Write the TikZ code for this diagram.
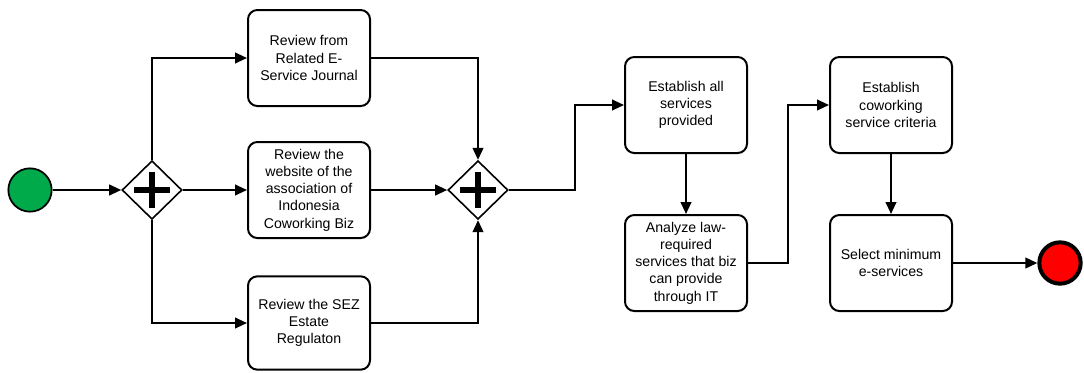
\documentclass[tikz,border=0pt]{standalone}
\usepackage{fontspec}
\setmainfont{Liberation Sans}
\usetikzlibrary{shapes.geometric,arrows.meta,calc}
\begin{document}
\begin{tikzpicture}[x=0.75pt,y=-0.75pt,
  task/.style={draw,line width=1.5pt,rounded corners=7pt,minimum width=91.5pt,minimum height=72pt,align=center,font=\fontsize{10.6}{12.9}\selectfont,inner sep=1pt},
  gw/.style={draw,line width=1.2pt,diamond,minimum width=45pt,minimum height=44pt,inner sep=0pt},
  flow/.style={line width=1.5pt,-{Triangle[length=9pt,width=8pt]}}]
\useasboundingbox (0,0) rectangle (1084,372);
\node[circle,draw,line width=1.3pt,fill={rgb,255:red,0;green,170;blue,75},minimum size=32.5pt,inner sep=0pt] (start) at (30,190) {};
\node[gw] (g1) at (152,190) {};
\draw[line width=4.5pt] ($(g1)+(-18,0)$) -- ($(g1)+(18,0)$) ($(g1)+(0,-18)$) -- ($(g1)+(0,18)$);
\node[task] (t1) at (309,58) {Review from\\Related E-\\Service Journal};
\node[task] (t2) at (309,190) {Review the\\website of the\\association of\\Indonesia\\Coworking Biz};
\node[task,minimum height=70pt] (t3) at (309,323) {Review the SEZ\\Estate\\Regulaton};
\node[gw] (g2) at (478,190) {};
\draw[line width=4.5pt] ($(g2)+(-18,0)$) -- ($(g2)+(18,0)$) ($(g2)+(0,-18)$) -- ($(g2)+(0,18)$);
\node[task] (t4) at (686,105) {Establish all\\services\\provided};
\node[task] (t5) at (686,263) {Analyze law-\\required\\services that biz\\can provide\\through IT};
\node[task] (t6) at (891,105) {Establish\\coworking\\service criteria};
\node[task] (t7) at (891,263) {Select minimum\\e-services};
\node[circle,draw,line width=3pt,fill=red,minimum size=31pt,inner sep=0pt] (end) at (1060,263) {};
\draw[flow] (start) -- (g1);
\draw[flow] (g1) -- (t2);
\draw[flow] (g1.north) |- (t1.west);
\draw[flow] (g1.south) |- (t3.west);
\draw[flow] (t1.east) -| (g2.north);
\draw[flow] (t2) -- (g2);
\draw[flow] (t3.east) -| (g2.south);
\coordinate (c1) at (575,190);
\draw[flow] (g2.east) -- (c1) |- (t4.west);
\draw[flow] (t4) -- (t5);
\coordinate (c2) at (788,263);
\draw[flow] (t5.east) -- (c2) |- (t6.west);
\draw[flow] (t6) -- (t7);
\draw[flow] (t7) -- (end);
\end{tikzpicture}
\end{document}
